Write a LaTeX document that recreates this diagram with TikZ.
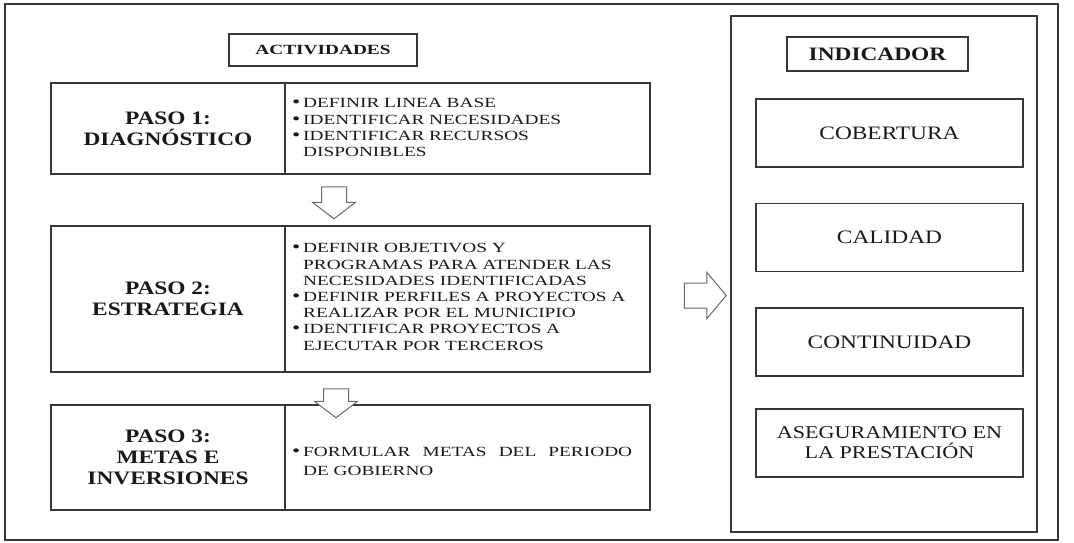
\documentclass[tikz,border=0pt]{standalone}
\usepackage{fontspec}
\setmainfont{Liberation Serif}
\newfontfamily\widefont{Liberation Serif}[FakeStretch=1.38]
\newfontfamily\broadfont{Liberation Serif}[FakeStretch=1.23]
\usepackage{tikz}
\usetikzlibrary{shapes.arrows}
\definecolor{pdline}{RGB}{55,55,55}
\definecolor{pdgray}{RGB}{105,105,105}
\definecolor{pdtext}{RGB}{25,25,25}
\tikzset{
  pdframe/.style={draw=pdline, line width=1.2pt, inner sep=0pt},
  pdtitle/.style={pdframe, font=\widefont\bfseries\fontsize{14}{16}\selectfont, text=pdtext},
  pdstep/.style={pdframe, align=center, font=\broadfont\bfseries\fontsize{19}{21}\selectfont, text=pdtext},
  pdlist/.style={anchor=north west, inner sep=0pt, text width=345pt, align=left,
    font=\widefont\fontsize{14}{16.2}\selectfont, text=pdtext},
  pdind/.style={pdframe, minimum width=267pt, minimum height=68pt, align=center,
    font=\broadfont\fontsize{19}{21}\selectfont, text=pdtext},
  pdarrow/.style={single arrow, draw=pdgray, fill=white, line width=1pt,
    inner xsep=0pt, inner ysep=12pt, single arrow head indent=0pt}
}
\newcommand{\pditem}[1]{\par\noindent\hangindent=11pt\hangafter=1%
  \makebox[11pt][l]{\fontsize{17}{0}\selectfont\textbullet}#1\par}
\newcommand{\pdbreak}{\hfill\break}

\begin{document}
\begin{tikzpicture}
  \useasboundingbox (0pt,0pt) rectangle (1074pt,-543pt);
  % marcos
  \node[pdframe, minimum width=1053pt, minimum height=536pt] (outer) at (531.5pt,-272pt) {};
  \node[pdframe, minimum width=306pt, minimum height=516pt] (indFrame) at (884pt,-274pt) {};
  % actividades
  \node[pdtitle, minimum width=188pt, minimum height=32pt] (actTitle) at (323pt,-50pt) {ACTIVIDADES};
  \node[pdstep, minimum width=234pt, minimum height=91pt] (paso1) at (168pt,-128.5pt) {PASO 1:\\DIAGNÓSTICO};
  \node[pdframe, minimum width=365pt, minimum height=91pt] (act1) at (467.5pt,-128.5pt) {};
  \node[pdstep, minimum width=234pt, minimum height=146pt] (paso2) at (168pt,-299pt) {PASO 2:\\ESTRATEGIA};
  \node[pdframe, minimum width=365pt, minimum height=146pt] (act2) at (467.5pt,-299pt) {};
  \node[pdstep, minimum width=234pt, minimum height=105pt] (paso3) at (168pt,-457.5pt) {PASO 3:\\METAS E\\INVERSIONES};
  \node[pdframe, minimum width=365pt, minimum height=105pt] (act3) at (467.5pt,-457.5pt) {};
  \node[pdlist] (list1) at (292pt,-91.5pt) {%
    \pditem{DEFINIR LINEA BASE}%
    \pditem{IDENTIFICAR NECESIDADES}%
    \pditem{IDENTIFICAR RECURSOS\pdbreak DISPONIBLES}};
  \node[pdlist] (list2) at (292pt,-236.5pt) {%
    \pditem{DEFINIR OBJETIVOS Y\pdbreak PROGRAMAS PARA ATENDER LAS\pdbreak NECESIDADES IDENTIFICADAS}%
    \pditem{DEFINIR PERFILES A PROYECTOS A\pdbreak REALIZAR POR EL MUNICIPIO}%
    \pditem{IDENTIFICAR PROYECTOS A\pdbreak EJECUTAR POR TERCEROS}};
  \node[pdlist, font=\widefont\fontsize{14}{19}\selectfont] (list3) at (292pt,-437pt) {%
    \pditem{\makebox[329pt][s]{FORMULAR\hfill METAS\hfill DEL\hfill PERIODO}\pdbreak DE GOBIERNO}};
  % flechas
  \node[pdarrow, rotate=-90, minimum height=32pt,
    single arrow head extend=9pt, single arrow tip angle=105] (arrow12) at (334pt,-198pt) {};
  \node[pdarrow, rotate=-90, minimum height=29pt,
    single arrow head extend=9pt, single arrow tip angle=105] (arrow23) at (336pt,-398.5pt) {};
  \node[pdarrow, minimum height=42pt,
    single arrow head extend=10.5pt, single arrow tip angle=100] (arrowInd) at (700pt,-295.5pt) {};
  % indicadores
  \node[pdframe, minimum width=181pt, minimum height=34pt, text=pdtext,
    font=\broadfont\bfseries\fontsize{19}{21}\selectfont] (indTitle) at (877.5pt,-54pt) {INDICADOR};
  \node[pdind] (indCob) at (889.5pt,-133pt) {COBERTURA};
  \node[pdind] (indCal) at (889.5pt,-237.5pt) {CALIDAD};
  \node[pdind] (indCon) at (889.5pt,-342pt) {CONTINUIDAD};
  \node[pdind, font=\broadfont\fontsize{18}{20}\selectfont] (indAse) at (889.5pt,-443pt) {ASEGURAMIENTO EN\\LA PRESTACIÓN};
\end{tikzpicture}
\end{document}
